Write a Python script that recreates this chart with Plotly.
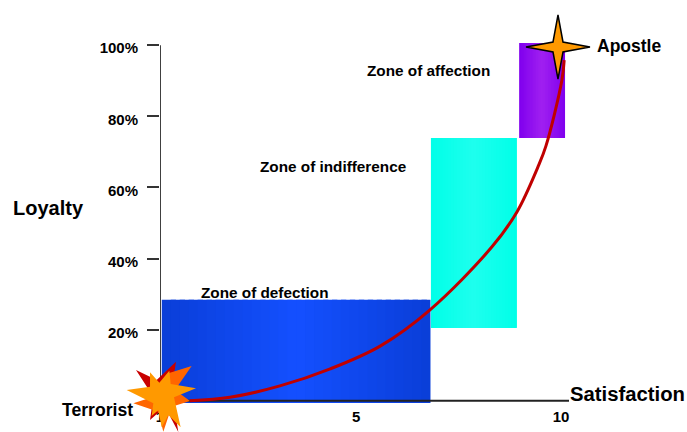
import plotly.graph_objects as go

FONT = "Liberation Sans, Arial, sans-serif"
W, H = 687, 432
L, R, T, B = 160, 569, 43, 403

# --- chart data (satisfaction units, loyalty percent) ---
y_tick_vals = [20, 40, 60, 80, 100]
y_tick_text = ["20%", "40%", "60%", "80%", "100%"]
x_tick_vals = [1, 5.4, 10]
x_tick_text = ["1", "5", "10"]

curve_x = [1.67, 2.57, 3.69, 4.82, 5.94, 7.06, 8.45, 9.01, 9.48, 9.66, 10.02, 10.07]
curve_y = [0, 1.0, 4.2, 9.0, 15.4, 25.6, 43.3, 53.1, 65.7, 71.6, 90.2, 95.8]

defection_x = [1.04, 7.07]
defection_y = [-0.6, 28.4]
indifference_x = [7.08, 9.01]
indifference_y = [20.5, 73.9]
affection_x = [9.06, 10.09]
affection_y = [73.9, 100.6]

X_MIN, X_MAX = 1, 1 + (R - L) / 44.56
STRIPS = 30


def mix(a, b, t):
    return "rgb(%d,%d,%d)" % tuple(round(a[i] + (b[i] - a[i]) * t) for i in range(3))


def zone(xs, ys, edge, mid):
    w = (xs[1] - xs[0]) / STRIPS
    lefts = [xs[0] + i * w for i in range(STRIPS)]
    rights = [min(xs[1], a + 1.6 * w) for a in lefts]
    cx = [(a + b) / 2 for a, b in zip(lefts, rights)]
    widths = [b - a for a, b in zip(lefts, rights)]
    col = [mix(edge, mid, 1 - abs(2 * (i + .5) / STRIPS - 1)) for i in range(STRIPS)]
    return go.Bar(x=cx, y=[ys[1] - ys[0]] * STRIPS, base=ys[0], width=widths,
                  marker=dict(color=col, line=dict(width=0)), cliponaxis=False,
                  showlegend=False, hoverinfo="skip")


def axis_line(xs, ys, color, width):
    return go.Scatter(x=xs, y=ys, mode="lines", line=dict(color=color, width=width),
                      cliponaxis=False, showlegend=False, hoverinfo="skip")


fig = go.Figure()
fig.add_trace(zone(defection_x, defection_y, (10, 62, 216), (20, 80, 255)))
fig.add_trace(zone(indifference_x, indifference_y, (0, 255, 232), (30, 255, 238)))
fig.add_trace(zone(affection_x, affection_y, (128, 0, 238), (160, 32, 240)))
fig.add_trace(axis_line([X_MIN, X_MAX], [0, 0], "#222", 2))
fig.add_trace(axis_line([X_MIN, X_MIN], [0, 100], "black", 1.5))
fig.add_trace(go.Scatter(x=curve_x, y=curve_y, mode="lines", cliponaxis=False,
                         line=dict(color="#c00000", width=3, shape="spline", smoothing=1),
                         showlegend=False, hoverinfo="skip"))


def px(x):
    return (x - L) / (R - L)


def py(y):
    return (B - y) / (B - T)


def poly(pts, fill, line=None, lw=0):
    path = "M " + " L ".join(f"{px(x):.4f},{py(y):.4f}" for x, y in pts) + " Z"
    return dict(type="path", xref="paper", yref="paper", path=path, fillcolor=fill,
                line=dict(color=line or fill, width=lw), layer="above")


def z(pts):  # crop coordinates of the burst
    return [(100 + a / 3, 340 + b / 3) for a, b in pts]


red = z([(108, 90), (170, 120), (228, 65), (215, 150), (235, 276), (195, 200), (150, 240), (160, 170)])
orange = z([(275, 78), (225, 150), (270, 183), (215, 200), (190, 275), (175, 215), (100, 190), (160, 170), (205, 100)])
front = z([(80, 150), (150, 140), (150, 97), (178, 128), (208, 92), (212, 132), (288, 145), (222, 172),
           (242, 262), (205, 225), (185, 262), (175, 210), (155, 228), (160, 190)])
cx, cy, a, n = 558, 47, 32, 5
apostle = [(cx, cy - a), (cx + n, cy - n), (cx + a, cy), (cx + n, cy + n),
           (cx, cy + a), (cx - n, cy + n), (cx - a, cy), (cx - n, cy - n)]
shapes = [poly(red, "#c80000"), poly(orange, "#ff6600"), poly(front, "#ff9900"),
          poly(apostle, "#ff9900", "black", 1.5)]


def label(text, x, y, size):
    return dict(text=f"<b>{text}</b>", x=px(x - 2), y=py(y), xref="paper", yref="paper",
                xanchor="left", yanchor="middle", showarrow=False,
                font=dict(family=FONT, size=size, color="black"))


annotations = [
    label("Loyalty", 13, 208, 20),
    label("Satisfaction", 570, 394, 20.3),
    label("Apostle", 597, 46, 17.5),
    label("Terrorist", 62, 410, 17.6),
    label("Zone of affection", 367, 71, 15.3),
    label("Zone of indifference", 260, 166, 15.3),
    label("Zone of defection", 201, 292, 15.3),
]

tick_font = dict(family=FONT, size=15, color="black", weight="bold")
fig.update_layout(
    width=W, height=H, autosize=False, paper_bgcolor="white", plot_bgcolor="white",
    margin=dict(l=L, r=W - R, t=T, b=H - B, pad=0), showlegend=False, barmode="overlay",
    shapes=shapes, annotations=annotations,
    xaxis=dict(range=[X_MIN, X_MAX], tickvals=x_tick_vals, ticktext=x_tick_text,
               tickfont=tick_font, ticks="", showgrid=False, zeroline=False, automargin=False,
               showline=False, ticklabelstandoff=3),
    yaxis=dict(range=[-0.6, 100.6], tickvals=y_tick_vals, ticktext=y_tick_text, tickfont=tick_font,
               ticks="outside", ticklen=12, tickwidth=1.5, tickcolor="#333", showgrid=False,
               zeroline=False, showline=False, automargin=False,
               ticklabelstandoff=6, ticklabelshift=3),
)
fig.write_html("out.html", config=dict(displayModeBar=False),
               post_script="document.body.style.margin='0';")
